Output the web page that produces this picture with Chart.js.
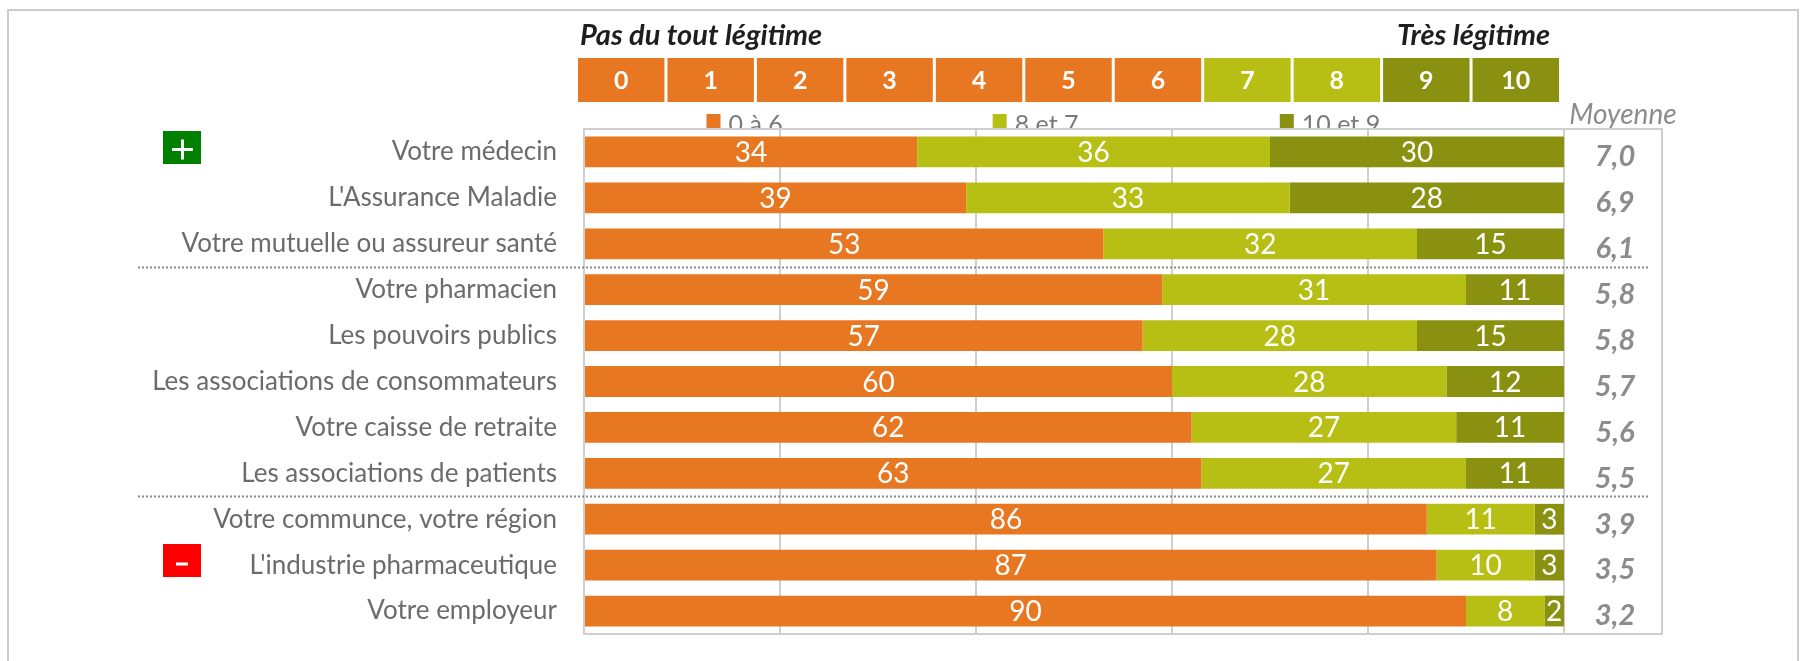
<!DOCTYPE html>
<html lang="fr">
<head>
<meta charset="utf-8">
<title>Légitimité perçue</title>
<script src="https://cdn.jsdelivr.net/npm/chart.js@4.4.1/dist/chart.umd.min.js"></script>
<style>
    html, body { margin: 0; padding: 0; background: #fff; }
    #wrap { position: relative; width: 1807px; height: 661px; overflow: hidden; }
    #frame {
        position: absolute; left: 7px; top: 9px; width: 1792px; height: 700px;
        border: 2px solid #cccccc; box-sizing: border-box;
    }
    #chart { position: absolute; left: 0; top: 0; }
</style>
</head>
<body>
<div id="wrap">
    <div id="frame"></div>
    <canvas id="chart" width="1807" height="661"></canvas>
</div>
<script>
// ===== DATA =====
const categories = [
    'Votre médecin',
    "L'Assurance Maladie",
    'Votre mutuelle ou assureur santé',
    'Votre pharmacien',
    'Les pouvoirs publics',
    'Les associations de consommateurs',
    'Votre caisse de retraite',
    'Les associations de patients',
    'Votre communce, votre région',
    "L'industrie pharmaceutique",
    'Votre employeur'
];
const score0to6  = [34, 39, 53, 59, 57, 60, 62, 63, 86, 87, 90];
const score7to8  = [36, 33, 32, 31, 28, 28, 27, 27, 11, 10, 8];
const score9to10 = [30, 28, 15, 11, 15, 12, 11, 11, 3, 3, 2];
const moyennes   = [7.0, 6.9, 6.1, 5.8, 5.8, 5.7, 5.6, 5.5, 3.9, 3.5, 3.2];
const seriesLabels = ['0 à 6', '8 et 7', '10 et 9'];
const scoreSteps = ['0', '1', '2', '3', '4', '5', '6', '7', '8', '9', '10'];
const xTicks = [0, 20, 40, 60, 80, 100];
// rows after which a dotted separator is drawn
const groupBreaks = [2, 7];

// ===== STYLE =====
const ORANGE = '#E87722';
const LIME   = '#B7BF14';
const OLIVE  = '#8A9110';
const stepColor = i => i <= 6 ? ORANGE : (i <= 8 ? LIME : OLIVE);
const FONT = 'Lato, "Open Sans", sans-serif';
const GRID = '#cfcfcf';

// ===== HEADER : échelle 0..10 + titres =====
const headerPlugin = {
    id: 'header',
    beforeDraw(chart) {
        const { ctx, chartArea: a } = chart;
        const left = a.left - 6, right = a.right - 2;
        const cw = (right - left) / scoreSteps.length;
        const top = 58, h = 44;
        ctx.save();
        scoreSteps.forEach((s, i) => {
            ctx.fillStyle = stepColor(i);
            ctx.fillRect(left + i * cw, top, cw - 3, h);
            ctx.fillStyle = '#fff';
            ctx.font = 'bold 25px ' + FONT;
            ctx.textAlign = 'center';
            ctx.textBaseline = 'middle';
            ctx.fillText(s, left + i * cw + (cw - 3) / 2, top + h / 2 + 1);
        });
        ctx.fillStyle = '#1e1e1e';
        ctx.font = 'italic bold 29px ' + FONT;
        ctx.textBaseline = 'alphabetic';
        ctx.textAlign = 'left';
        ctx.fillText('Pas du tout légitime', left + 2, 45);
        ctx.textAlign = 'right';
        ctx.fillText('Très légitime', right - 12, 45);

        // "Moyenne" heading
        ctx.fillStyle = '#8c8c8c';
        ctx.font = 'italic 28px ' + FONT;
        ctx.textAlign = 'center';
        ctx.fillText('Moyenne', a.right + 59, 124);

        // legend, cut off by the top of the plot frame
        ctx.beginPath();
        ctx.rect(0, 0, chart.width, a.top);
        ctx.clip();
        const spots = [0.125, 0.417, 0.71];
        chart.data.datasets.forEach((ds, i) => {
            const x = a.left + spots[i] * (a.right - a.left);
            ctx.fillStyle = ds.backgroundColor;
            ctx.fillRect(x, 114, 14, 14);
            ctx.fillStyle = '#7a7a7a';
            ctx.font = '25px ' + FONT;
            ctx.textAlign = 'left';
            ctx.fillText(ds.label, x + 22, 133);
        });
        ctx.restore();
    }
};

// ===== FRAMES, SEPARATORS, +/- BADGES =====
const framePlugin = {
    id: 'frames',
    beforeDatasetsDraw(chart) {
        const { ctx, chartArea: a } = chart;
        ctx.save();
        ctx.strokeStyle = GRID;
        ctx.lineWidth = 2;
        ctx.strokeRect(a.left, a.top, a.right - a.left, a.bottom - a.top);
        ctx.strokeRect(a.right, a.top, 98, a.bottom - a.top);
        ctx.restore();
    },
    afterDatasetsDraw(chart) {
        const { ctx, chartArea: a, scales: { y } } = chart;
        ctx.save();
        ctx.strokeStyle = '#8a8a8a';
        ctx.lineWidth = 2;
        ctx.setLineDash([2, 2]);
        groupBreaks.forEach(r => {
            const yy = Math.round((y.getPixelForValue(r) + y.getPixelForValue(r + 1)) / 2) + 0.5;
            ctx.beginPath();
            ctx.moveTo(138, yy);
            ctx.lineTo(a.right + 84, yy);
            ctx.stroke();
        });
        ctx.setLineDash([]);

        // badges
        const badge = (row, color, plus) => {
            const cy = y.getPixelForValue(row);
            const x0 = 163, y0 = Math.round(cy - 21), w = 38, h = 33;
            ctx.fillStyle = color;
            ctx.fillRect(x0, y0, w, h);
            ctx.fillStyle = '#fff';
            const cx = x0 + w / 2, my = y0 + h / 2 + 2;
            if (plus) {
                ctx.fillRect(cx - 10, my - 1.5, 21, 3);
                ctx.fillRect(cx - 1, my - 10, 3, 20);
            } else {
                ctx.fillRect(cx - 6, my, 12, 3);
            }
        };
        badge(0, '#008000', true);
        badge(9, '#FF0000', false);
        ctx.restore();
    }
};

// ===== VALUE LABELS + MOYENNES =====
const labelsPlugin = {
    id: 'valueLabels',
    afterDatasetsDraw(chart) {
        const { ctx, chartArea: a } = chart;
        ctx.save();
        ctx.fillStyle = '#fff';
        ctx.font = '28px ' + FONT;
        ctx.textAlign = 'center';
        ctx.textBaseline = 'middle';
        chart.data.datasets.forEach((ds, di) => {
            chart.getDatasetMeta(di).data.forEach((bar, i) => {
                const right = Math.min(bar.x, a.right);
                ctx.fillText(String(ds.data[i]), (bar.base + right) / 2, bar.y + 1);
            });
        });

        ctx.fillStyle = '#8c8c8c';
        ctx.font = 'italic bold 29px ' + FONT;
        const meta = chart.getDatasetMeta(0);
        moyennes.forEach((m, i) => {
            ctx.fillText(m.toFixed(1).replace('.', ','), a.right + 51, meta.data[i].y + 5);
        });
        ctx.restore();
    }
};

// ===== CHART =====
new Chart(document.getElementById('chart'), {
    type: 'bar',
    data: {
        labels: categories,
        datasets: [
            { label: seriesLabels[0], data: score0to6,  backgroundColor: ORANGE },
            { label: seriesLabels[1], data: score7to8,  backgroundColor: LIME },
            { label: seriesLabels[2], data: score9to10, backgroundColor: OLIVE }
        ]
    },
    options: {
        indexAxis: 'y',
        responsive: false,
        animation: false,
        layout: { padding: { left: 0, top: 129, right: 243, bottom: 27 } },
        datasets: { bar: { barPercentage: 0.67, categoryPercentage: 1 } },
        plugins: { legend: { display: false }, tooltip: { enabled: false } },
        scales: {
            x: {
                stacked: true, min: 0, max: 100,
                afterBuildTicks: s => { s.ticks = xTicks.map(v => ({ value: v })); },
                ticks: { display: false },
                grid: { color: GRID, lineWidth: 2, drawTicks: false },
                border: { display: false },
                afterFit: s => { s.height = 0; s.paddingLeft = 0; s.paddingRight = 0; }
            },
            y: {
                stacked: true,
                grid: { display: false, drawTicks: false },
                border: { display: false },
                ticks: { color: '#6b6b6b', font: { family: FONT, size: 26 }, padding: 27 },
                // fixed label column; no extra room reserved for the end labels
                afterFit: s => { s.width = 584; s.paddingTop = 0; s.paddingBottom = 0; }
            }
        }
    },
    plugins: [headerPlugin, framePlugin, labelsPlugin]
});
</script>
</body>
</html>
